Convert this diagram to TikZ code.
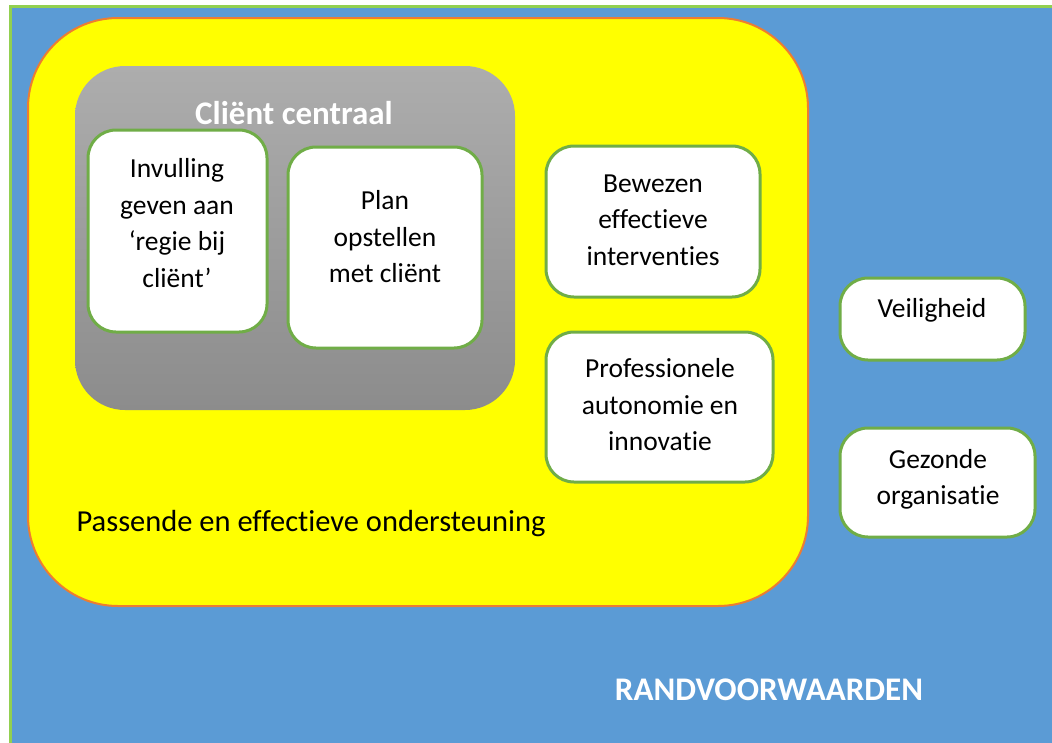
\documentclass[tikz,border=0pt]{standalone}
\usepackage{fontspec}
\setmainfont[Ligatures={NoCommon}]{Carlito}
\definecolor{bgblue}{HTML}{5B9BD5}
\definecolor{outergreen}{HTML}{92D050}
\definecolor{boxgreen}{HTML}{70AD47}
\definecolor{yel}{HTML}{FFFF00}
\definecolor{orng}{HTML}{ED7D31}
\definecolor{graytop}{HTML}{ADADAD}
\definecolor{graybot}{HTML}{8C8C8C}
\tikzset{
  whitebox/.style={draw=boxgreen, line width=3pt, fill=white, rounded corners=28pt, inner sep=0pt},
  bodytext/.style={font=\fontsize{27.5}{36.5}\selectfont, align=center, text=black, inner sep=0pt},
  bigtext/.style={font=\fontsize{30.5}{36.5}\selectfont, text=black, inner sep=0pt},
  headtext/.style={font=\fontsize{33}{38}\selectfont\bfseries, text=white, inner sep=0pt},
}
\begin{document}
\begin{tikzpicture}[x=1pt,y=-1pt]
\useasboundingbox (0,0) rectangle (1052,742);
% outer background
\path[draw=outergreen, line width=3pt, fill=bgblue] (10,6) rectangle (1070,760);
% yellow area
\node[draw=orng, line width=2pt, fill=yel, rounded corners=90pt, minimum width=780pt, minimum height=588pt, inner sep=0pt] (yellow) at (418,312) {};
% gray area
\node[rounded corners=50pt, top color=graytop, bottom color=graybot, minimum width=440pt, minimum height=344pt, inner sep=0pt] (grayarea) at (295,238) {};
\node[headtext] (clienttitle) at (294,113) {Cliënt centraal};
% boxes
\node[whitebox, minimum width=179pt, minimum height=202pt] (invbox) at (177.5,231) {};
\node[bodytext] (invtext) at (177,223) {Invulling\\geven aan\\‘regie bij\\cliënt’};
\node[whitebox, minimum width=194pt, minimum height=201pt] (planbox) at (385,247.5) {};
\node[bodytext] (plantext) at (385,237) {Plan\\opstellen\\met cliënt};
\node[whitebox, minimum width=214pt, minimum height=151pt] (bewbox) at (653,221.5) {};
\node[bodytext] (bewtext) at (653,220) {Bewezen\\effectieve\\interventies};
\node[whitebox, minimum width=227pt, minimum height=150pt] (profbox) at (659.5,407) {};
\node[bodytext] (proftext) at (660,405) {Professionele\\autonomie en\\innovatie};
\node[whitebox, minimum width=185pt, minimum height=82pt] (veilbox) at (932.5,319) {};
\node[bodytext] (veiltext) at (932,310) {Veiligheid};
\node[whitebox, minimum width=195pt, minimum height=109pt] (gezbox) at (937.5,482.5) {};
\node[bodytext] (geztext) at (938,479.5) {Gezonde\\organisatie};
% labels
\node[bigtext] (passende) at (311,524) {Passende en effectieve ondersteuning};
\node[headtext] (rand) at (769,690) {RANDVOORWAARDEN};
\end{tikzpicture}
\end{document}
